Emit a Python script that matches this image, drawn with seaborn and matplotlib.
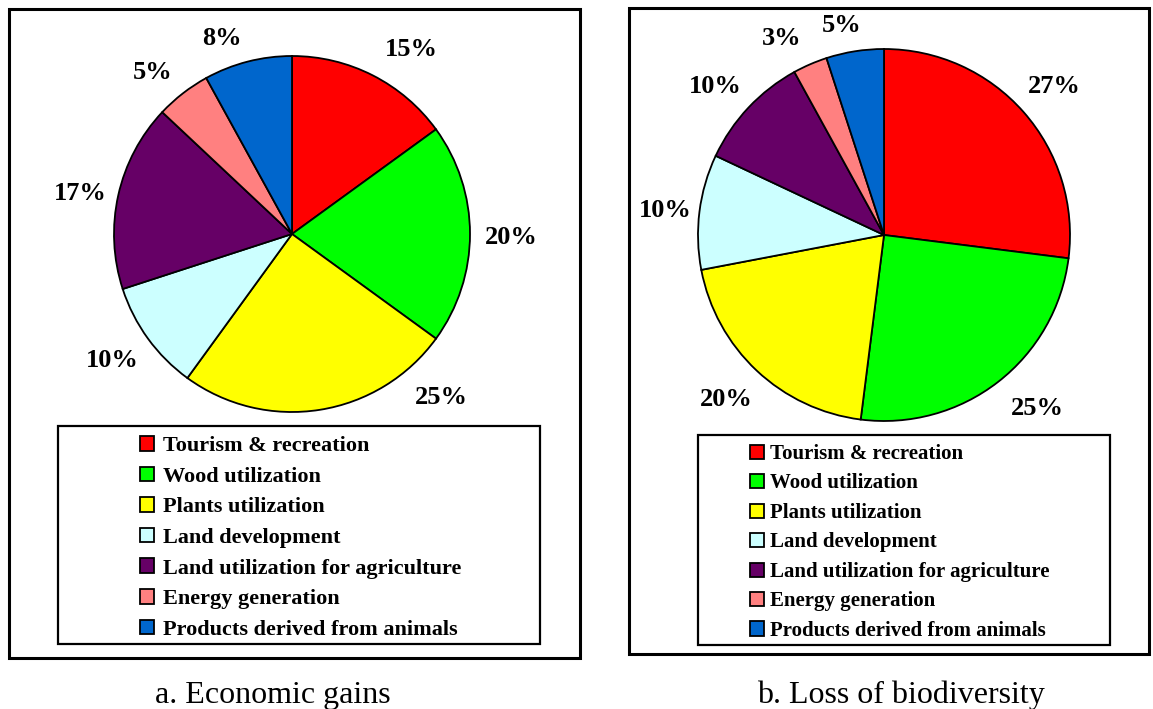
import matplotlib
matplotlib.use("Agg")
import matplotlib.pyplot as plt
from matplotlib.patches import Rectangle
import seaborn as sns

# ---------------- data ----------------
categories = ["Tourism & recreation", "Wood utilization", "Plants utilization",
              "Land development", "Land utilization for agriculture",
              "Energy generation", "Products derived from animals"]
economic_gains = [15, 20, 25, 10, 17, 5, 8]
biodiversity_loss = [27, 25, 20, 10, 10, 3, 5]
panel_titles = ["a. Economic gains", "b. Loss of biodiversity"]

# ---------------- styles / layout ----------------
colors = ["#FF0000", "#00FF00", "#FFFF00", "#CCFFFF", "#660066", "#FF8080", "#0066CC"]
# label anchor offsets (in pie-radius units) for each slice label
left_label_pos = [(0.669, 1.034), (1.230, -0.017), (0.837, -0.916), (-1.011, -0.713),
                  (-1.191, 0.225), (-0.781, 0.910), (-0.393, 1.101)]
right_label_pos = [(0.914, 0.796), (0.823, -0.935), (-0.849, -0.882), (-1.177, 0.134),
                   (-0.909, 0.796), (-0.548, 1.054), (-0.226, 1.129)]

sns.set_theme(style="white")
plt.rcParams["font.family"] = ["Liberation Serif", "DejaVu Serif"]
plt.rcParams["text.color"] = "black"

W, H = 1153, 709
fig = plt.figure(figsize=(W / 100, H / 100), dpi=100)


def fx(px):
    return px / W


def fy(py):
    return 1 - py / H


def frame_rect(x0, y0, x1, y1, lw=2.0, color="black"):
    r = Rectangle((fx(x0), fy(y1)), fx(x1) - fx(x0), fy(y0) - fy(y1),
                  transform=fig.transFigure, fill=False, edgecolor=color,
                  linewidth=lw, zorder=0)
    fig.patches.append(r)


def draw_pie(cx, cy, R, values, label_pos):
    span = 1.35
    ax = fig.add_axes([fx(cx - span * R), fy(cy + span * R),
                       fx(2 * span * R), (2 * span * R) / H])
    wedges, _ = ax.pie(values, colors=colors, startangle=90, counterclock=False,
                       radius=1.0,
                       wedgeprops=dict(edgecolor="black", linewidth=1.3))
    for v, (lx, ly) in zip(values, label_pos):
        ax.text(lx, ly, f"{v}%", ha="center", va="center", fontsize=19,
                fontweight="bold", color="black", clip_on=False)
    ax.set_xlim(-span, span)
    ax.set_ylim(-span, span)
    ax.set_aspect("equal")
    ax.axis("off")
    return ax, wedges


# outer panel frames
frame_rect(9, 9, 580, 658, lw=2.2)
frame_rect(629, 8, 1149, 654, lw=2.2)

# pies
axL, wedgesL = draw_pie(292, 234, 178, economic_gains, left_label_pos)
axR, wedgesR = draw_pie(884, 235, 186, biodiversity_loss, right_label_pos)

# legend frames
frame_rect(58, 426, 540, 644, lw=1.6)
frame_rect(698, 435, 1110, 645, lw=1.6)

legL = fig.legend(wedgesL, categories, loc="upper left",
                  bbox_to_anchor=(fx(140), fy(436)), bbox_transform=fig.transFigure,
                  frameon=False, borderpad=0, borderaxespad=0,
                  prop=dict(family="Liberation Serif", weight="bold", size=16),
                  handlelength=0.64, handleheight=0.64, handletextpad=0.4,
                  labelspacing=0.47)
legR = fig.legend(wedgesR, categories, loc="upper left",
                  bbox_to_anchor=(fx(750), fy(444)), bbox_transform=fig.transFigure,
                  frameon=False, borderpad=0, borderaxespad=0,
                  prop=dict(family="Liberation Serif", weight="bold", size=15),
                  handlelength=0.67, handleheight=0.67, handletextpad=0.3,
                  labelspacing=0.455)
for leg in (legL, legR):
    for t in leg.get_texts():
        t.set_color("black")

# captions
fig.text(fx(273), fy(703), panel_titles[0], ha="center", va="baseline",
         fontsize=23, color="black")
fig.text(fx(901), fy(703), panel_titles[1], ha="center", va="baseline",
         fontsize=23, color="black")

fig.savefig("out.png", dpi=100, facecolor="white")
